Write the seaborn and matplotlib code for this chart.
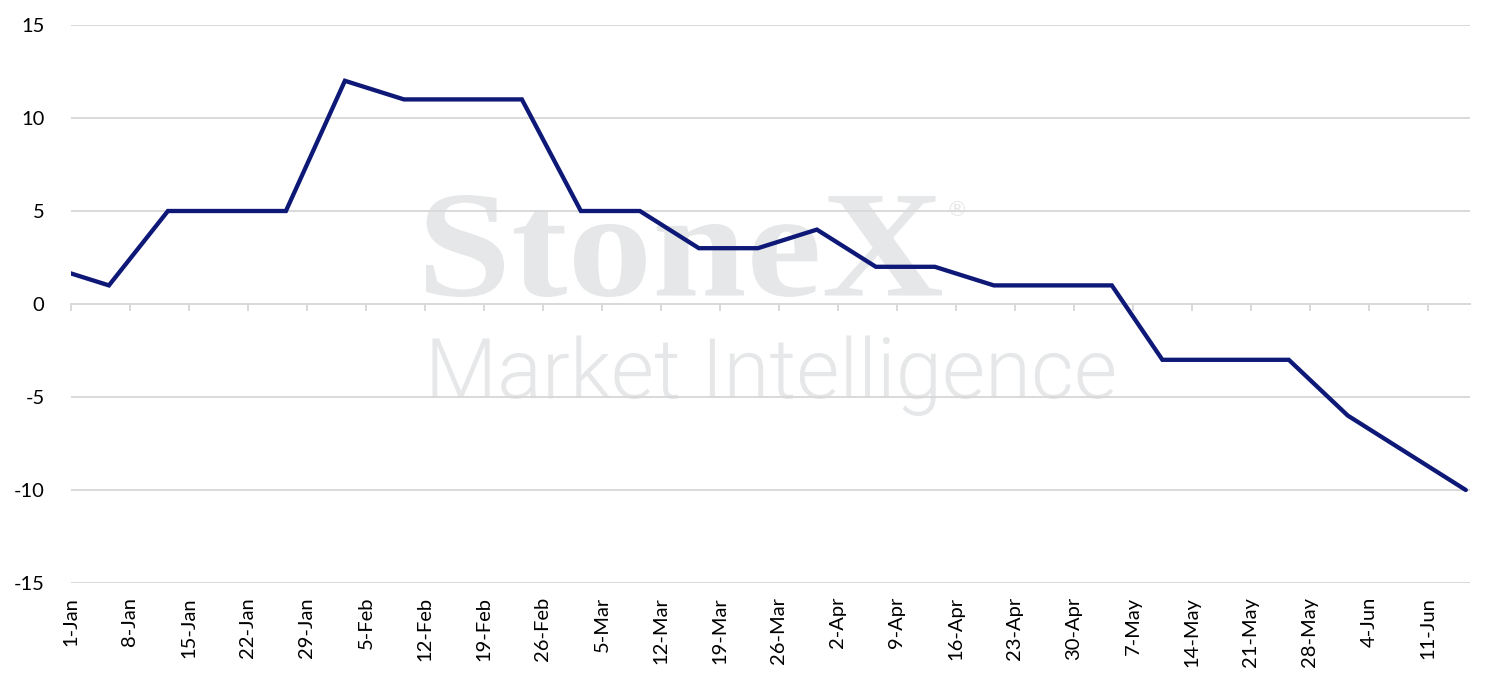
import matplotlib
matplotlib.use("Agg")
import matplotlib.pyplot as plt
import seaborn as sns
import pandas as pd
import numpy as np
from matplotlib.textpath import TextPath
from matplotlib.patches import PathPatch
from matplotlib.font_manager import FontProperties
from matplotlib.transforms import Affine2D, IdentityTransform

# ---- data (weekly readings) ----
dates = ["2020-12-29", "2021-01-05", "2021-01-12", "2021-01-19", "2021-01-26",
         "2021-02-02", "2021-02-09", "2021-02-16", "2021-02-23", "2021-03-02",
         "2021-03-09", "2021-03-16", "2021-03-23", "2021-03-30", "2021-04-06",
         "2021-04-13", "2021-04-20", "2021-04-27", "2021-05-04", "2021-05-10",
         "2021-05-18", "2021-05-25", "2021-06-01", "2021-06-08", "2021-06-15"]
values = [2, 1, 5, 5, 5, 12, 11, 11, 11, 5, 5, 3, 3, 4, 2, 2, 1, 1, 1,
          -3, -3, -3, -6, -8, -10]
axis_start = "2021-01-01"
n_ticks = 24
y_ticks = [-15, -10, -5, 0, 5, 10, 15]

LINE = "#0d1877"
GRID = "#d9d9d9"
WM = "#e6e7e8"

sns.set_theme(style="white")
plt.rcParams["font.family"] = ["Lato", "DejaVu Sans"]

W, H = 1493, 689
fig = plt.figure(figsize=(W / 100, H / 100), dpi=100)
ax = fig.add_axes([71 / W, 1 - 583 / H, (1470 - 71) / W, (583 - 25) / H])
ax.patch.set_facecolor("none")

start = pd.Timestamp(axis_start)
df = pd.DataFrame({"date": pd.to_datetime(dates), "value": values})
df["day"] = (df["date"] - start).dt.days + 0.5

sns.lineplot(data=df, x="day", y="value", color=LINE, linewidth=3.1, ax=ax,
             zorder=3, solid_joinstyle="miter")

ax.set_xlim(0, 166)
ax.set_ylim(-15, 15)
ax.set_yticks(y_ticks)
ax.set_yticklabels([str(v) for v in y_ticks])
ax.yaxis.grid(True, color=GRID, linewidth=1.4)
ax.xaxis.grid(False)
ax.set_axisbelow(True)
for s in ax.spines.values():
    s.set_visible(False)

ticks = np.arange(n_ticks) * 7
labels = [(start + pd.Timedelta(days=int(t))).strftime("%-d-%b") for t in ticks]
ax.set_xticks(ticks)
ax.set_xticklabels(labels, rotation=90, va="top", ha="center")
ax.tick_params(axis="x", length=0, pad=10, labelsize=14.5, labelcolor="black")
ax.tick_params(axis="y", length=0, pad=19, labelsize=14.5, labelcolor="black")
ax.set_xlabel("")
ax.set_ylabel("")

# zero axis with tick marks
sec = ax.secondary_xaxis(0.4999)
sec.set_xticks(ticks)
sec.set_xticklabels([])
sec.tick_params(axis="x", length=5, width=1.4, color=GRID, direction="out")
for name, sp in sec.spines.items():
    sp.set_color(GRID)
    sp.set_linewidth(1.4)

# watermark: "StoneX" as a stretched text path (pixel coordinates)
fp = FontProperties(family="Liberation Serif", weight="bold")
tp = TextPath((0, 0), "StoneX", size=150, prop=fp)
bb = tp.get_extents()
sx = (942 - 426) / bb.width
sy = (297 - 195) / bb.height
tr = (Affine2D().translate(-bb.x0, -bb.y0).scale(sx, sy)
      .translate(426, H - 297) + IdentityTransform())
wm = PathPatch(tp, transform=tr, facecolor=WM, edgecolor="none", zorder=-1)
wm.set_clip_on(False)
fig.add_artist(wm)

ax.text(946 / W, 1 - 216 / H, "®", transform=fig.transFigure, fontsize=15,
        family=["DejaVu Sans"], color=WM, ha="left", va="baseline",
        zorder=0.1, clip_on=False)
ax.text(425 / W, 1 - 398 / H, "Market Intelligence", transform=fig.transFigure,
        fontsize=60, family=["Roboto", "DejaVu Sans"], fontweight=300,
        color=WM, ha="left", va="baseline", zorder=0.1, clip_on=False)

fig.savefig("out.png", dpi=100)
